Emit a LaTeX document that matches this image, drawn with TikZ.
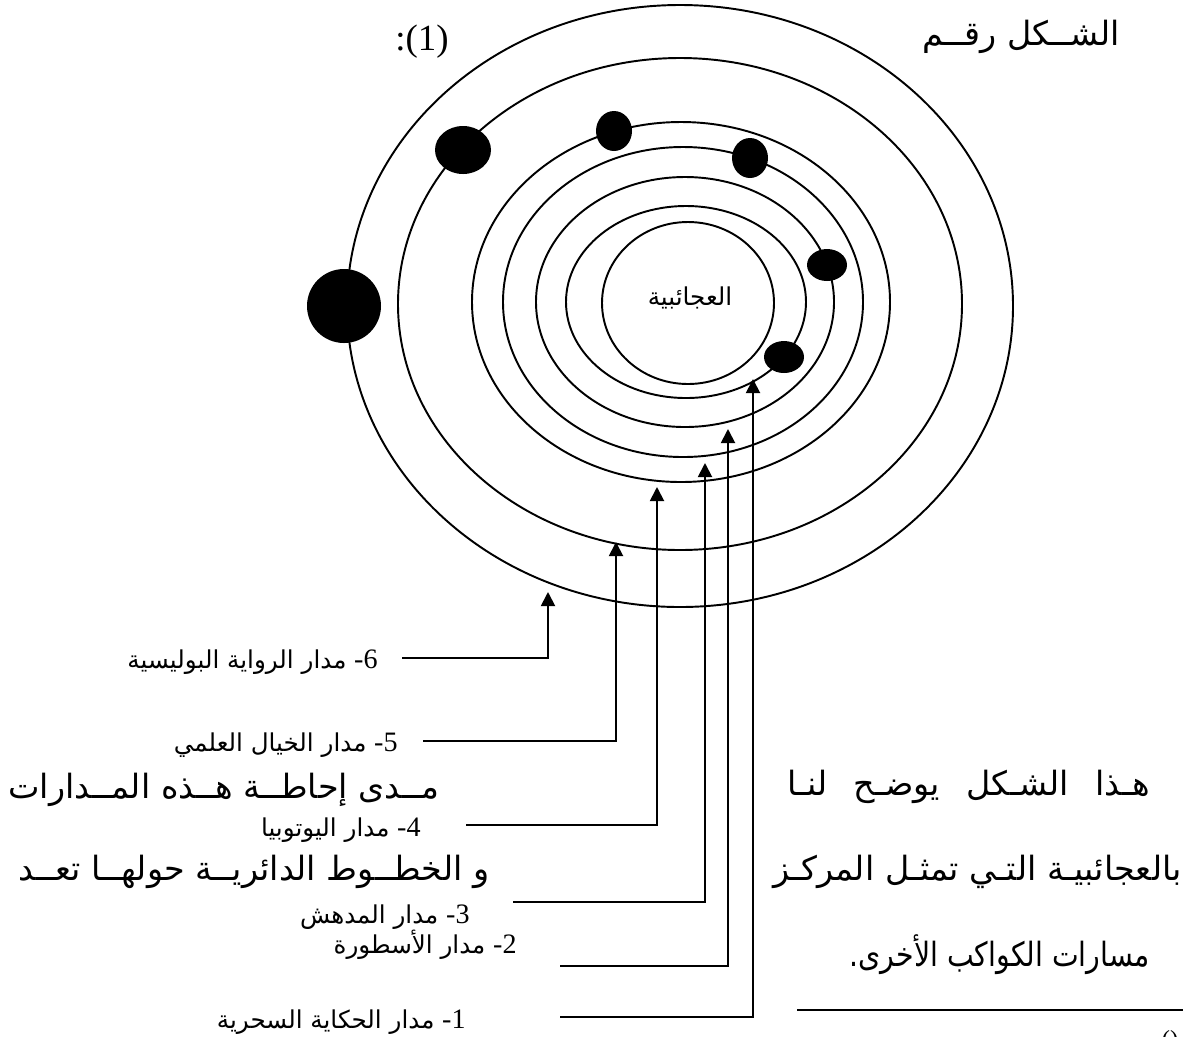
\documentclass[tikz,border=0pt]{standalone}
\usepackage{fontspec}
\usepackage{tikz}
\usetikzlibrary{arrows.meta}
\newfontfamily\arabicfont[Script=Arabic]{DejaVu Sans}
\newfontfamily\digitfont{Liberation Serif}
\TeXXeTstate=1
\newcommand{\wgap}{\hspace{9pt}}
\newcommand{\num}[1]{{\digitfont\fontsize{16}{18}\selectfont #1}}
\tikzset{
  orbit/.style={line width=1.1pt},
  pointer/.style={line width=1.1pt,-{Triangle[length=8pt,width=8pt]}},
  lbl/.style={font=\arabicfont\fontsize{14}{16}\selectfont,inner sep=0pt},
  big/.style={font=\arabicfont\fontsize{19}{22}\selectfont,inner sep=0pt}
}

\begin{document}
\begin{tikzpicture}[x=0.02cm,y=-0.02cm]
  \useasboundingbox (0,0) rectangle (1190,1036);

  \draw[orbit] (680,306) ellipse [x radius=333,y radius=301];
  \draw[orbit] (680,304) ellipse [x radius=282,y radius=246];
  \draw[orbit] (681,302) ellipse [x radius=209,y radius=180];
  \draw[orbit] (683,302) ellipse [x radius=180,y radius=155];
  \draw[orbit] (685,302) ellipse [x radius=149,y radius=125];
  \draw[orbit] (686,302) ellipse [x radius=120,y radius=96];
  \draw[orbit] (688,303) ellipse [x radius=86,y radius=81];
  \node[lbl] (centre) at (690,298) {\beginR العجائبية\endR};

  \fill (344,306) circle [radius=37];
  \fill (463,150) ellipse [x radius=28,y radius=24];
  \fill (614,131) ellipse [x radius=18,y radius=20];
  \fill (750,158) ellipse [x radius=18,y radius=20];
  \fill (827,265) ellipse [x radius=20,y radius=16];
  \fill (784,357) ellipse [x radius=20,y radius=16];

  \node[big,anchor=east] (head) at (1120,37) {\beginR الشــكل رقــم\endR};
  \node[inner sep=0pt,font=\digitfont\fontsize{21}{24}\selectfont,anchor=west] (fig) at (395,42) {:(1)};

  \node[lbl,anchor=east] (L6) at (378,662) {\beginR\num{-6} مدار الرواية البوليسية\endR};
  \node[lbl,anchor=east] (L5) at (398,745) {\beginR\num{-5} مدار الخيال العلمي\endR};
  \node[lbl,anchor=east] (L4) at (421,830) {\beginR\num{-4} مدار اليوتوبيا\endR};
  \node[lbl,anchor=east] (L3) at (470,917) {\beginR\num{-3} مدار المدهش\endR};
  \node[lbl,anchor=east] (L2) at (517,945) {\beginR\num{-2} مدار الأسطورة\endR};
  \node[lbl,anchor=east] (L1) at (466,1022) {\beginR\num{-1} مدار الحكاية السحرية\endR};

  \coordinate (s6) at (402,658);  \coordinate (t6) at (548,592);
  \coordinate (s5) at (423,741);  \coordinate (t5) at (616,542);
  \coordinate (s4) at (466,825);  \coordinate (t4) at (657,487);
  \coordinate (s3) at (513,902);  \coordinate (t3) at (705,463);
  \coordinate (s2) at (560,966);  \coordinate (t2) at (728,429);
  \coordinate (s1) at (560,1017); \coordinate (t1) at (753,379);
  \draw[pointer] (s6) -| (t6);
  \draw[pointer] (s5) -| (t5);
  \draw[pointer] (s4) -| (t4);
  \draw[pointer] (s3) -| (t3);
  \draw[pointer] (s2) -| (t2);
  \draw[pointer] (s1) -| (t1);

  \node[big,anchor=east] (txa) at (440,790) {\beginR مــدى إحاطــة هــذه المــدارات\endR};
  \node[big,anchor=east] (txb) at (490,872) {\beginR و الخطــوط الدائريــة حولهــا تعــد\endR};
  \node[big,anchor=east] (txc) at (1150,787) {\beginR هـذا\wgap{} الشـكل\wgap{} يوضـح\wgap{} لنـا\endR};
  \node[big,anchor=east] (txd) at (1182,872) {\beginR بالعجائبيـة التـي تمثـل المركـز\endR};
  \node[big,anchor=east,xscale=0.85,transform shape] (txe) at (1150,955) {\beginR مسارات الكواكب الأخرى.\endR};

  \draw[line width=1.4pt] (797,1010) -- (1183,1010);
  \node[inner sep=0pt,font=\digitfont\fontsize{14}{16}\selectfont,anchor=north] (fn) at (1170,1030) {()};
\end{tikzpicture}
\end{document}
